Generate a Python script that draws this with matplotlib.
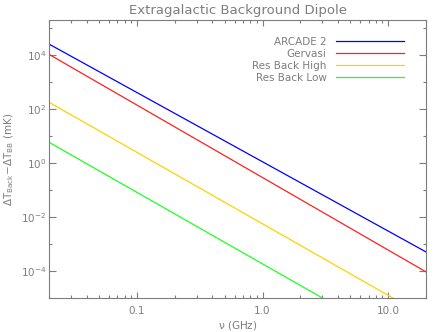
import matplotlib
matplotlib.use('Agg')
import matplotlib.pyplot as plt
from matplotlib.ticker import FixedLocator, FixedFormatter, NullFormatter

# line endpoints (nu in GHz, dT in mK)
nu_full = [0.02, 20.0]
arcade2 = [2.57e4, 5.1e-4]
gervasi = [1.07e4, 9.3e-5]

nu_high = [0.02, 10.9]
res_high = [179.0, 1.0e-5]

nu_low = [0.02, 3.0]
res_low = [5.9, 1.0e-5]

labels = ['ARCADE 2', 'Gervasi', 'Res Back High', 'Res Back Low']
colors = ['#0000ff', '#ff2020', '#ffd200', '#20ff20']

gray = '#7d7d7d'
plt.rcParams['font.family'] = ['DejaVu Sans']
plt.rcParams['mathtext.default'] = 'regular'

fig = plt.figure(figsize=(4.36, 3.32), dpi=100)
ax = fig.add_axes([49 / 436, 34 / 332, 377 / 436, 278 / 332])

ax.plot(nu_full, arcade2, color=colors[0], lw=0.9, label=labels[0])
ax.plot(nu_full, gervasi, color=colors[1], lw=0.9, label=labels[1])
ax.plot(nu_high, res_high, color=colors[2], lw=0.9, label=labels[2])
ax.plot(nu_low, res_low, color=colors[3], lw=0.9, label=labels[3])

ax.set_xscale('log')
ax.set_yscale('log')
ax.set_xlim(0.02, 20)
ax.set_ylim(1e-5, 2e5)

ax.xaxis.set_major_locator(FixedLocator([0.1, 1.0, 10.0]))
ax.xaxis.set_major_formatter(FixedFormatter(['0.1', '1.0', '10.0']))
xminor = [m * 10.0 ** e for e in (-2, -1, 0, 1) for m in range(2, 10)]
ax.xaxis.set_minor_locator(FixedLocator(xminor))
ax.xaxis.set_minor_formatter(NullFormatter())

ymaj = [1e-4, 1e-2, 1e0, 1e2, 1e4]
ax.yaxis.set_major_locator(FixedLocator(ymaj))
ax.yaxis.set_major_formatter(FixedFormatter(['10$^{-4}$', '10$^{-2}$', '10$^{0}$', '10$^{2}$', '10$^{4}$']))
ax.yaxis.set_minor_locator(FixedLocator([1e-5, 1e-3, 1e-1, 1e1, 1e3, 1e5]))
ax.yaxis.set_minor_formatter(NullFormatter())

for s in ax.spines.values():
    s.set_color(gray)
    s.set_linewidth(0.8)

ax.tick_params(axis='both', which='both', direction='in', top=True, right=True,
               colors=gray, labelcolor=gray, width=0.8, labelsize=7.5)
ax.tick_params(axis='x', which='major', length=4.3, pad=6)
ax.tick_params(axis='x', which='minor', length=2.4)
ax.tick_params(axis='y', which='major', length=5, pad=2)
ax.tick_params(axis='y', which='minor', length=2.5)

ax.set_title('Extragalactic Background Dipole', color=gray, fontsize=9.5, pad=4)
ax.set_xlabel(r'$\nu$ (GHz)', color=gray, fontsize=7.5, labelpad=2)
ax.set_ylabel(r'$\Delta$T$_{Back}$$-\Delta$T$_{BB}$ (mK)', color=gray, fontsize=7.5, labelpad=3)

ax.legend(loc='upper right', bbox_to_anchor=(0.952, 0.955), frameon=False, markerfirst=False,
          fontsize=7.5, labelcolor=gray, handlelength=6.5, handletextpad=0.9,
          labelspacing=0.2, borderaxespad=0)

fig.savefig('out.png', dpi=100)
